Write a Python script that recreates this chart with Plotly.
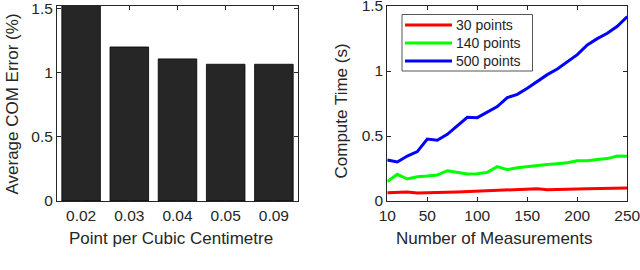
import plotly.graph_objects as go

# Left chart data
densities = ["0.02", "0.03", "0.04", "0.05", "0.09"]
com_error = [1.56, 1.203, 1.11, 1.068, 1.068]

# Right chart data
measurements = [10, 20, 30, 40, 50, 60, 70, 80, 90, 100, 110, 120, 130,
                140, 150, 160, 170, 180, 190, 200, 210, 220, 230, 240, 250]
t30 = [0.064, 0.067, 0.069, 0.062, 0.062, 0.064, 0.067, 0.069, 0.072, 0.074,
       0.077, 0.079, 0.082, 0.085, 0.090, 0.095, 0.087, 0.087, 0.087, 0.092,
       0.095, 0.097, 0.097, 0.097, 0.100]
t140 = [0.149, 0.205, 0.169, 0.187, 0.192, 0.200, 0.233, 0.220, 0.208, 0.210,
        0.220, 0.264, 0.241, 0.256, 0.264, 0.277, 0.280, 0.287, 0.295, 0.310,
        0.310, 0.320, 0.326, 0.346, 0.344]
t500 = [0.315, 0.300, 0.346, 0.380, 0.477, 0.467, 0.513, 0.580, 0.644, 0.641,
        0.682, 0.726, 0.795, 0.820, 0.867, 0.918, 0.972, 1.015, 1.069, 1.126,
        1.200, 1.249, 1.290, 1.344, 1.418]
series_names = ["30 points", "140 points", "500 points"]
series_colors = ["#ff0000", "#00ff00", "#0000ff"]

FONT = "Liberation Sans, Arial, sans-serif"
AX = "#262626"
TICK = 15.5
TITLE = 17
W, H = 640, 270


def px(x):
    return x / W


def py(y):
    return 1 - y / H


fig = go.Figure()
fig.add_trace(go.Bar(
    x=list(range(1, len(densities) + 1)), y=com_error, width=0.8,
    marker=dict(color="#262626", line=dict(color="#000000", width=0.8)),
    showlegend=False, xaxis="x", yaxis="y"))

for name, vals, col in zip(series_names, [t30, t140, t500], series_colors):
    fig.add_trace(go.Scatter(
        x=measurements, y=vals, mode="lines", name=name, showlegend=False,
        line=dict(color=col, width=3), xaxis="x2", yaxis="y2"))

common = dict(showline=True, linecolor=AX, linewidth=1, mirror="allticks",
              ticks="inside", ticklen=4, tickcolor=AX, showgrid=False,
              zeroline=False, automargin=False, ticklabeloverflow="allow",
              tickfont=dict(family=FONT, size=TICK, color=AX))
ydom = [py(201), py(6)]
tfont = dict(family=FONT, size=TITLE, color=AX)

annotations = [
    dict(text="Point per Cubic Centimetre", x=px(171), y=py(238), font=tfont),
    dict(text="Number of Measurements", x=px(494), y=py(238), font=tfont),
    dict(text="Average COM Error (%)", x=px(12), y=py(104.5), font=tfont, textangle=-90),
    dict(text="Compute Time (s)", x=px(341), y=py(111.5), font=tfont, textangle=-90),
]
for a in annotations:
    a.update(xref="paper", yref="paper", showarrow=False,
             xanchor="center", yanchor="middle")

# manual legend matching the reference box
shapes = [dict(type="rect", xref="paper", yref="paper",
               x0=px(402), x1=px(532.5), y0=py(71), y1=py(14.5),
               line=dict(color="#555555", width=1), fillcolor="white", layer="above")]
leg_rows = [25, 43, 61]
for name, col, ry in zip(series_names, series_colors, leg_rows):
    shapes.append(dict(type="line", xref="paper", yref="paper",
                       x0=px(405), x1=px(452), y0=py(ry), y1=py(ry),
                       line=dict(color=col, width=3), layer="above"))
    annotations.append(dict(text=name, xref="paper", yref="paper",
                            x=px(454), y=py(ry), xanchor="left", yanchor="middle",
                            showarrow=False,
                            font=dict(family=FONT, size=14, color=AX)))

fig.update_layout(
    width=W, height=H,
    margin=dict(l=0, r=0, t=0, b=0),
    paper_bgcolor="white", plot_bgcolor="white",
    font=dict(family=FONT, size=15, color=AX),
    showlegend=False,
    xaxis=dict(domain=[px(57), px(298)], range=[0.5, 5.5],
               tickvals=list(range(1, len(densities) + 1)), ticktext=densities,
               anchor="y", **common),
    yaxis=dict(domain=ydom, range=[0, 1.523], tickvals=[0, 0.5, 1, 1.5],
               ticktext=["0", "0.5", "1", "1.5"], anchor="x", **common),
    xaxis2=dict(domain=[px(387.3), px(627.3)], range=[10, 250],
                tickvals=[10, 50, 100, 150, 200, 250], anchor="y2", **common),
    yaxis2=dict(domain=ydom, range=[0, 1.5], tickvals=[0, 0.5, 1, 1.5],
                ticktext=["0", "0.5", "1", "1.5"], anchor="x2", **common),
    annotations=annotations,
    shapes=shapes,
)

fig.write_html("out.html",
               config={"displayModeBar": False, "staticPlot": True},
               post_script="document.body.style.margin='0';"
                           "document.body.style.padding='0';"
                           "document.body.style.overflow='hidden';")
